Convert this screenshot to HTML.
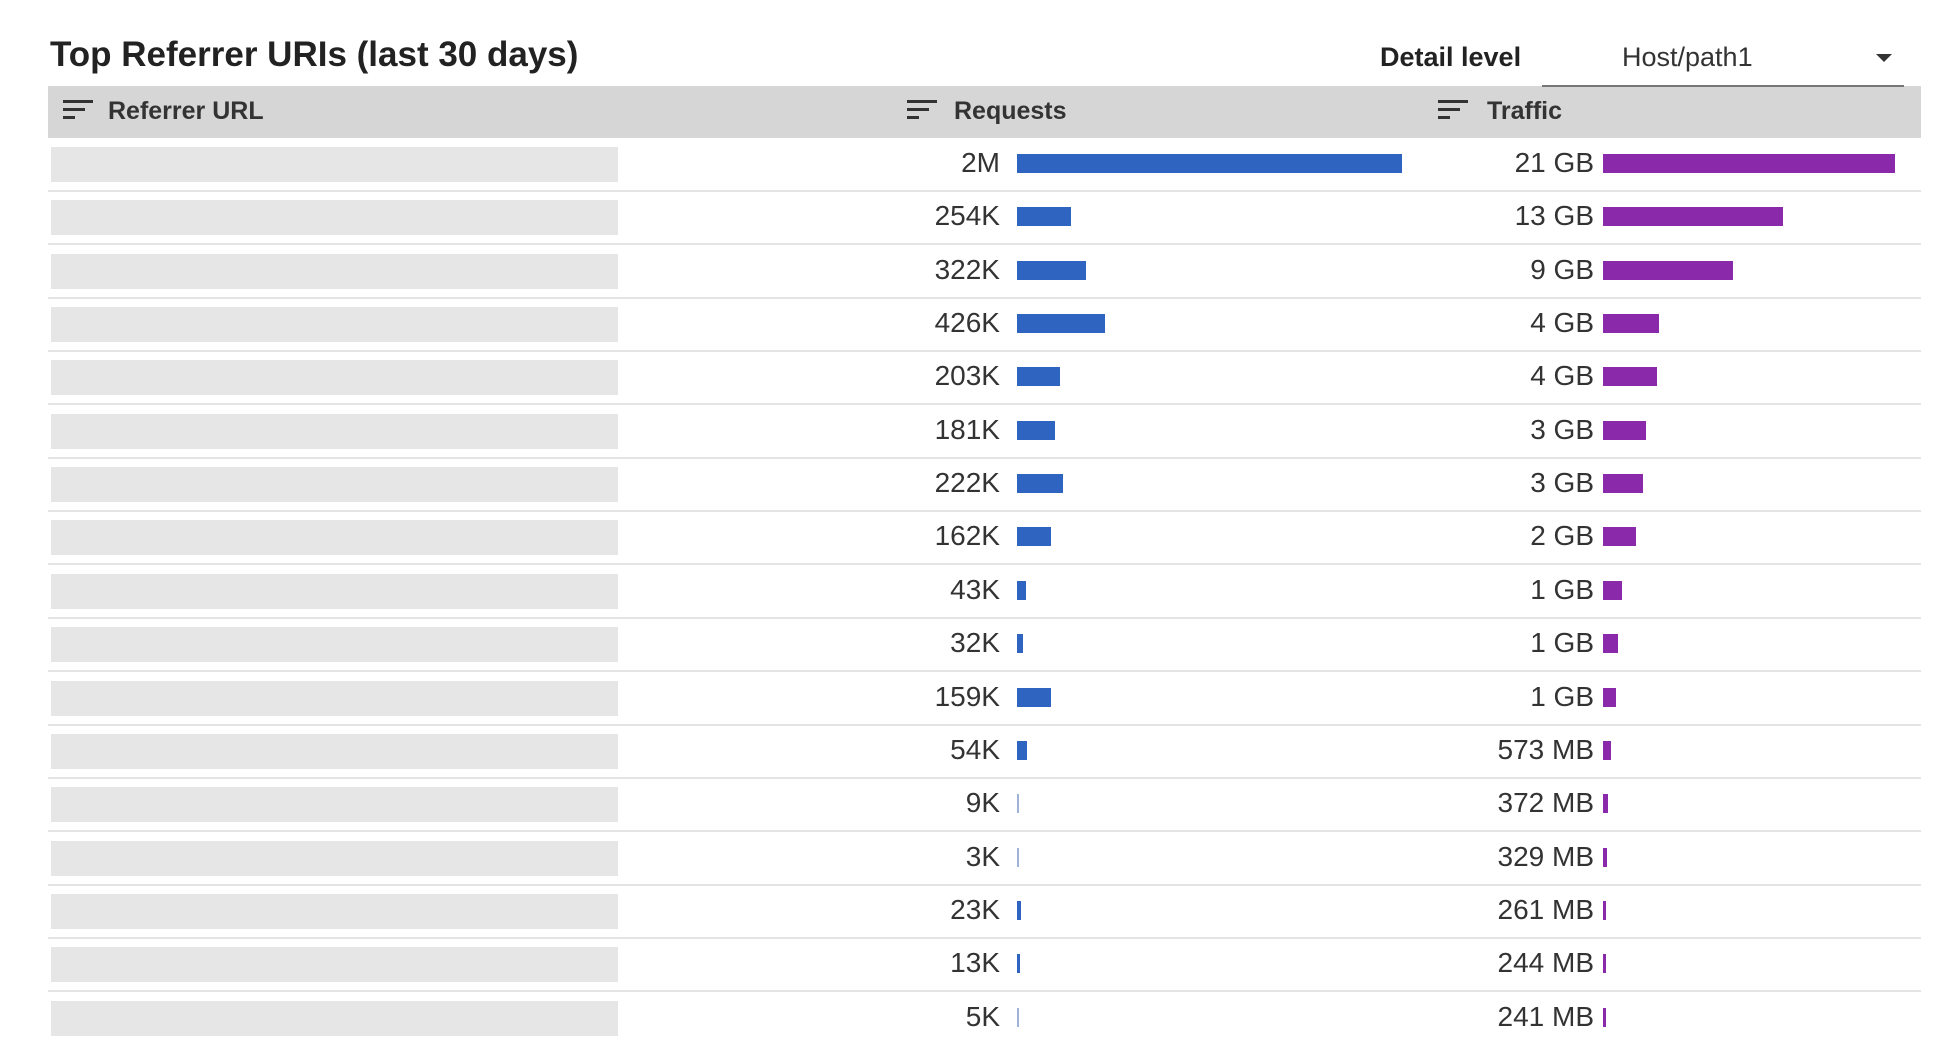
<!DOCTYPE html>
<html><head><meta charset="utf-8"><style>
body{margin:0;width:1958px;height:1042px;background:#fff;position:relative;overflow:hidden;font-family:"Liberation Sans",sans-serif;color:#333}
div{position:absolute}
.t{font-size:28px;line-height:32px;height:32px;text-align:right;color:#333}
.r{width:200px;left:800px}
.tr{width:200px;left:1394px}
.b{height:19px;background:#2f65c0;left:1017px}
.p{height:19px;background:#8a2aaa;left:1603px}
.ph{left:51px;width:567px;height:35px;background:#e6e6e6}
.sep{left:48px;width:1873px;height:2px;background:#e4e4e4}
.ic{width:30px;height:22px}
.ic i{position:absolute;left:0;height:3px;background:#333;display:block}
.h{font-size:25px;font-weight:bold;color:#333;top:96px;line-height:30px}
</style></head><body>
<div style="left:50px;top:35px;font-size:35px;font-weight:bold;color:#222;line-height:40px">Top Referrer URIs (last 30 days)</div>
<div style="left:1380px;top:41px;font-size:27px;font-weight:bold;color:#222;line-height:32px">Detail level</div>
<div style="left:1622px;top:41px;font-size:27px;color:#333;line-height:32px">Host/path1</div>
<div style="left:1876px;top:54px;width:0;height:0;border-left:8px solid transparent;border-right:8px solid transparent;border-top:8px solid #333"></div>
<div style="left:48px;top:86px;width:1873px;height:52px;background:#d6d6d6"></div>
<div style="left:1542px;top:85px;width:362px;height:2px;background:#777"></div>
<div class="ic" style="left:63px;top:100px"><i style="top:0;width:30px"></i><i style="top:8px;width:22px"></i><i style="top:16px;width:12px"></i></div>
<div class="h" style="left:108px">Referrer URL</div>
<div class="ic" style="left:907px;top:100px"><i style="top:0;width:30px"></i><i style="top:8px;width:22px"></i><i style="top:16px;width:12px"></i></div>
<div class="h" style="left:954px">Requests</div>
<div class="ic" style="left:1438px;top:100px"><i style="top:0;width:30px"></i><i style="top:8px;width:22px"></i><i style="top:16px;width:12px"></i></div>
<div class="h" style="left:1487px">Traffic</div>

<div class="ph" style="top:147px"></div><div class="t r" style="top:147px">2M</div><div class="b" style="top:154px;width:385px"></div><div class="t tr" style="top:147px">21 GB</div><div class="p" style="top:154px;width:292px"></div><div class="sep" style="top:190px"></div>
<div class="ph" style="top:200px"></div><div class="t r" style="top:200px">254K</div><div class="b" style="top:207px;width:54px"></div><div class="t tr" style="top:200px">13 GB</div><div class="p" style="top:207px;width:180px"></div><div class="sep" style="top:243px"></div>
<div class="ph" style="top:254px"></div><div class="t r" style="top:254px">322K</div><div class="b" style="top:261px;width:69px"></div><div class="t tr" style="top:254px">9 GB</div><div class="p" style="top:261px;width:130px"></div><div class="sep" style="top:297px"></div>
<div class="ph" style="top:307px"></div><div class="t r" style="top:307px">426K</div><div class="b" style="top:314px;width:88px"></div><div class="t tr" style="top:307px">4 GB</div><div class="p" style="top:314px;width:56px"></div><div class="sep" style="top:350px"></div>
<div class="ph" style="top:360px"></div><div class="t r" style="top:360px">203K</div><div class="b" style="top:367px;width:43px"></div><div class="t tr" style="top:360px">4 GB</div><div class="p" style="top:367px;width:54px"></div><div class="sep" style="top:403px"></div>
<div class="ph" style="top:414px"></div><div class="t r" style="top:414px">181K</div><div class="b" style="top:421px;width:38px"></div><div class="t tr" style="top:414px">3 GB</div><div class="p" style="top:421px;width:43px"></div><div class="sep" style="top:457px"></div>
<div class="ph" style="top:467px"></div><div class="t r" style="top:467px">222K</div><div class="b" style="top:474px;width:46px"></div><div class="t tr" style="top:467px">3 GB</div><div class="p" style="top:474px;width:40px"></div><div class="sep" style="top:510px"></div>
<div class="ph" style="top:520px"></div><div class="t r" style="top:520px">162K</div><div class="b" style="top:527px;width:34px"></div><div class="t tr" style="top:520px">2 GB</div><div class="p" style="top:527px;width:33px"></div><div class="sep" style="top:563px"></div>
<div class="ph" style="top:574px"></div><div class="t r" style="top:574px">43K</div><div class="b" style="top:581px;width:9px"></div><div class="t tr" style="top:574px">1 GB</div><div class="p" style="top:581px;width:19px"></div><div class="sep" style="top:617px"></div>
<div class="ph" style="top:627px"></div><div class="t r" style="top:627px">32K</div><div class="b" style="top:634px;width:6px"></div><div class="t tr" style="top:627px">1 GB</div><div class="p" style="top:634px;width:15px"></div><div class="sep" style="top:670px"></div>
<div class="ph" style="top:681px"></div><div class="t r" style="top:681px">159K</div><div class="b" style="top:688px;width:34px"></div><div class="t tr" style="top:681px">1 GB</div><div class="p" style="top:688px;width:13px"></div><div class="sep" style="top:724px"></div>
<div class="ph" style="top:734px"></div><div class="t r" style="top:734px">54K</div><div class="b" style="top:741px;width:10px"></div><div class="t tr" style="top:734px">573 MB</div><div class="p" style="top:741px;width:8px"></div><div class="sep" style="top:777px"></div>
<div class="ph" style="top:787px"></div><div class="t r" style="top:787px">9K</div><div class="b" style="top:794px;width:2px;background:#9fb3d6"></div><div class="t tr" style="top:787px">372 MB</div><div class="p" style="top:794px;width:5px"></div><div class="sep" style="top:830px"></div>
<div class="ph" style="top:841px"></div><div class="t r" style="top:841px">3K</div><div class="b" style="top:848px;width:2px;background:#9fb3d6"></div><div class="t tr" style="top:841px">329 MB</div><div class="p" style="top:848px;width:4px"></div><div class="sep" style="top:884px"></div>
<div class="ph" style="top:894px"></div><div class="t r" style="top:894px">23K</div><div class="b" style="top:901px;width:4px"></div><div class="t tr" style="top:894px">261 MB</div><div class="p" style="top:901px;width:3px"></div><div class="sep" style="top:937px"></div>
<div class="ph" style="top:947px"></div><div class="t r" style="top:947px">13K</div><div class="b" style="top:954px;width:3px"></div><div class="t tr" style="top:947px">244 MB</div><div class="p" style="top:954px;width:3px"></div><div class="sep" style="top:990px"></div>
<div class="ph" style="top:1001px"></div><div class="t r" style="top:1001px">5K</div><div class="b" style="top:1008px;width:2px;background:#9fb3d6"></div><div class="t tr" style="top:1001px">241 MB</div><div class="p" style="top:1008px;width:3px"></div>
</body></html>
